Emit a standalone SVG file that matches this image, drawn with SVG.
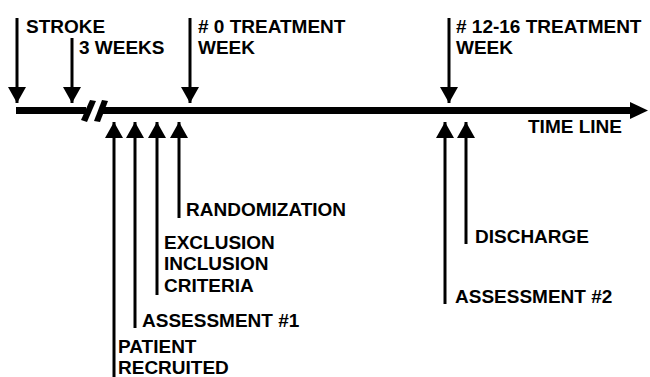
<svg xmlns="http://www.w3.org/2000/svg" width="650" height="377" viewBox="0 0 650 377">
<style>
.t{font-family:"Liberation Sans",Arial,sans-serif;font-weight:bold;font-size:19px;fill:#000}
.l{stroke:#000;stroke-width:3;fill:none}
</style>
<defs>
<marker id="ah" markerWidth="16" markerHeight="18" refX="16" refY="9" orient="auto" markerUnits="userSpaceOnUse" viewBox="0 0 16 18">
<path d="M0,0 L16,9 L0,18 Z" fill="#000"/>
</marker>
</defs>
<rect width="650" height="377" fill="#fff"/>
<g id="timeline">
<rect x="16" y="107" width="70" height="7" fill="#000"/>
<rect x="102" y="107" width="530" height="7" fill="#000"/>
<polygon points="630,102 648,110.5 630,119" fill="#000"/>
<polygon points="90,100 96,101 87,122 81,120" fill="#000"/>
<polygon points="102,100 108,101 100,122 94,121" fill="#000"/>
<text class="t" x="528" y="133">TIME LINE</text>
</g>
<g id="connectors">
<line class="l" x1="17" y1="18" x2="17" y2="103" marker-end="url(#ah)"/>
<line class="l" x1="72" y1="38" x2="72" y2="103" marker-end="url(#ah)"/>
<line class="l" x1="190" y1="18" x2="190" y2="103" marker-end="url(#ah)"/>
<line class="l" x1="449" y1="18" x2="449" y2="103" marker-end="url(#ah)"/>
<line class="l" x1="114" y1="377" x2="114" y2="122" marker-end="url(#ah)"/>
<line class="l" x1="135" y1="328" x2="135" y2="122" marker-end="url(#ah)"/>
<line class="l" x1="157" y1="295" x2="157" y2="122" marker-end="url(#ah)"/>
<line class="l" x1="179" y1="218" x2="179" y2="122" marker-end="url(#ah)"/>
<line class="l" x1="445" y1="304" x2="445" y2="122" marker-end="url(#ah)"/>
<line class="l" x1="466" y1="244" x2="466" y2="122" marker-end="url(#ah)"/>
</g>
<g id="stroke"><text class="t" x="26" y="33">STROKE</text></g>
<g id="weeks3"><text class="t" x="79" y="54">3 WEEKS</text></g>
<g id="week0"><text class="t" x="198" y="33"># 0 TREATMENT</text><text class="t" x="198" y="54">WEEK</text></g>
<g id="week12"><text class="t" x="456" y="33"># 12-16 TREATMENT</text><text class="t" x="456" y="54">WEEK</text></g>
<g id="randomization"><text class="t" x="186" y="216">RANDOMIZATION</text></g>
<g id="criteria"><text class="t" x="164" y="249">EXCLUSION</text><text class="t" x="164" y="270">INCLUSION</text><text class="t" x="164" y="292">CRITERIA</text></g>
<g id="assessment1"><text class="t" x="142" y="327">ASSESSMENT #1</text></g>
<g id="patient"><text class="t" x="118" y="353">PATIENT</text><text class="t" x="118" y="374">RECRUITED</text></g>
<g id="discharge"><text class="t" x="475" y="243">DISCHARGE</text></g>
<g id="assessment2"><text class="t" x="455" y="303">ASSESSMENT #2</text></g>
</svg>
